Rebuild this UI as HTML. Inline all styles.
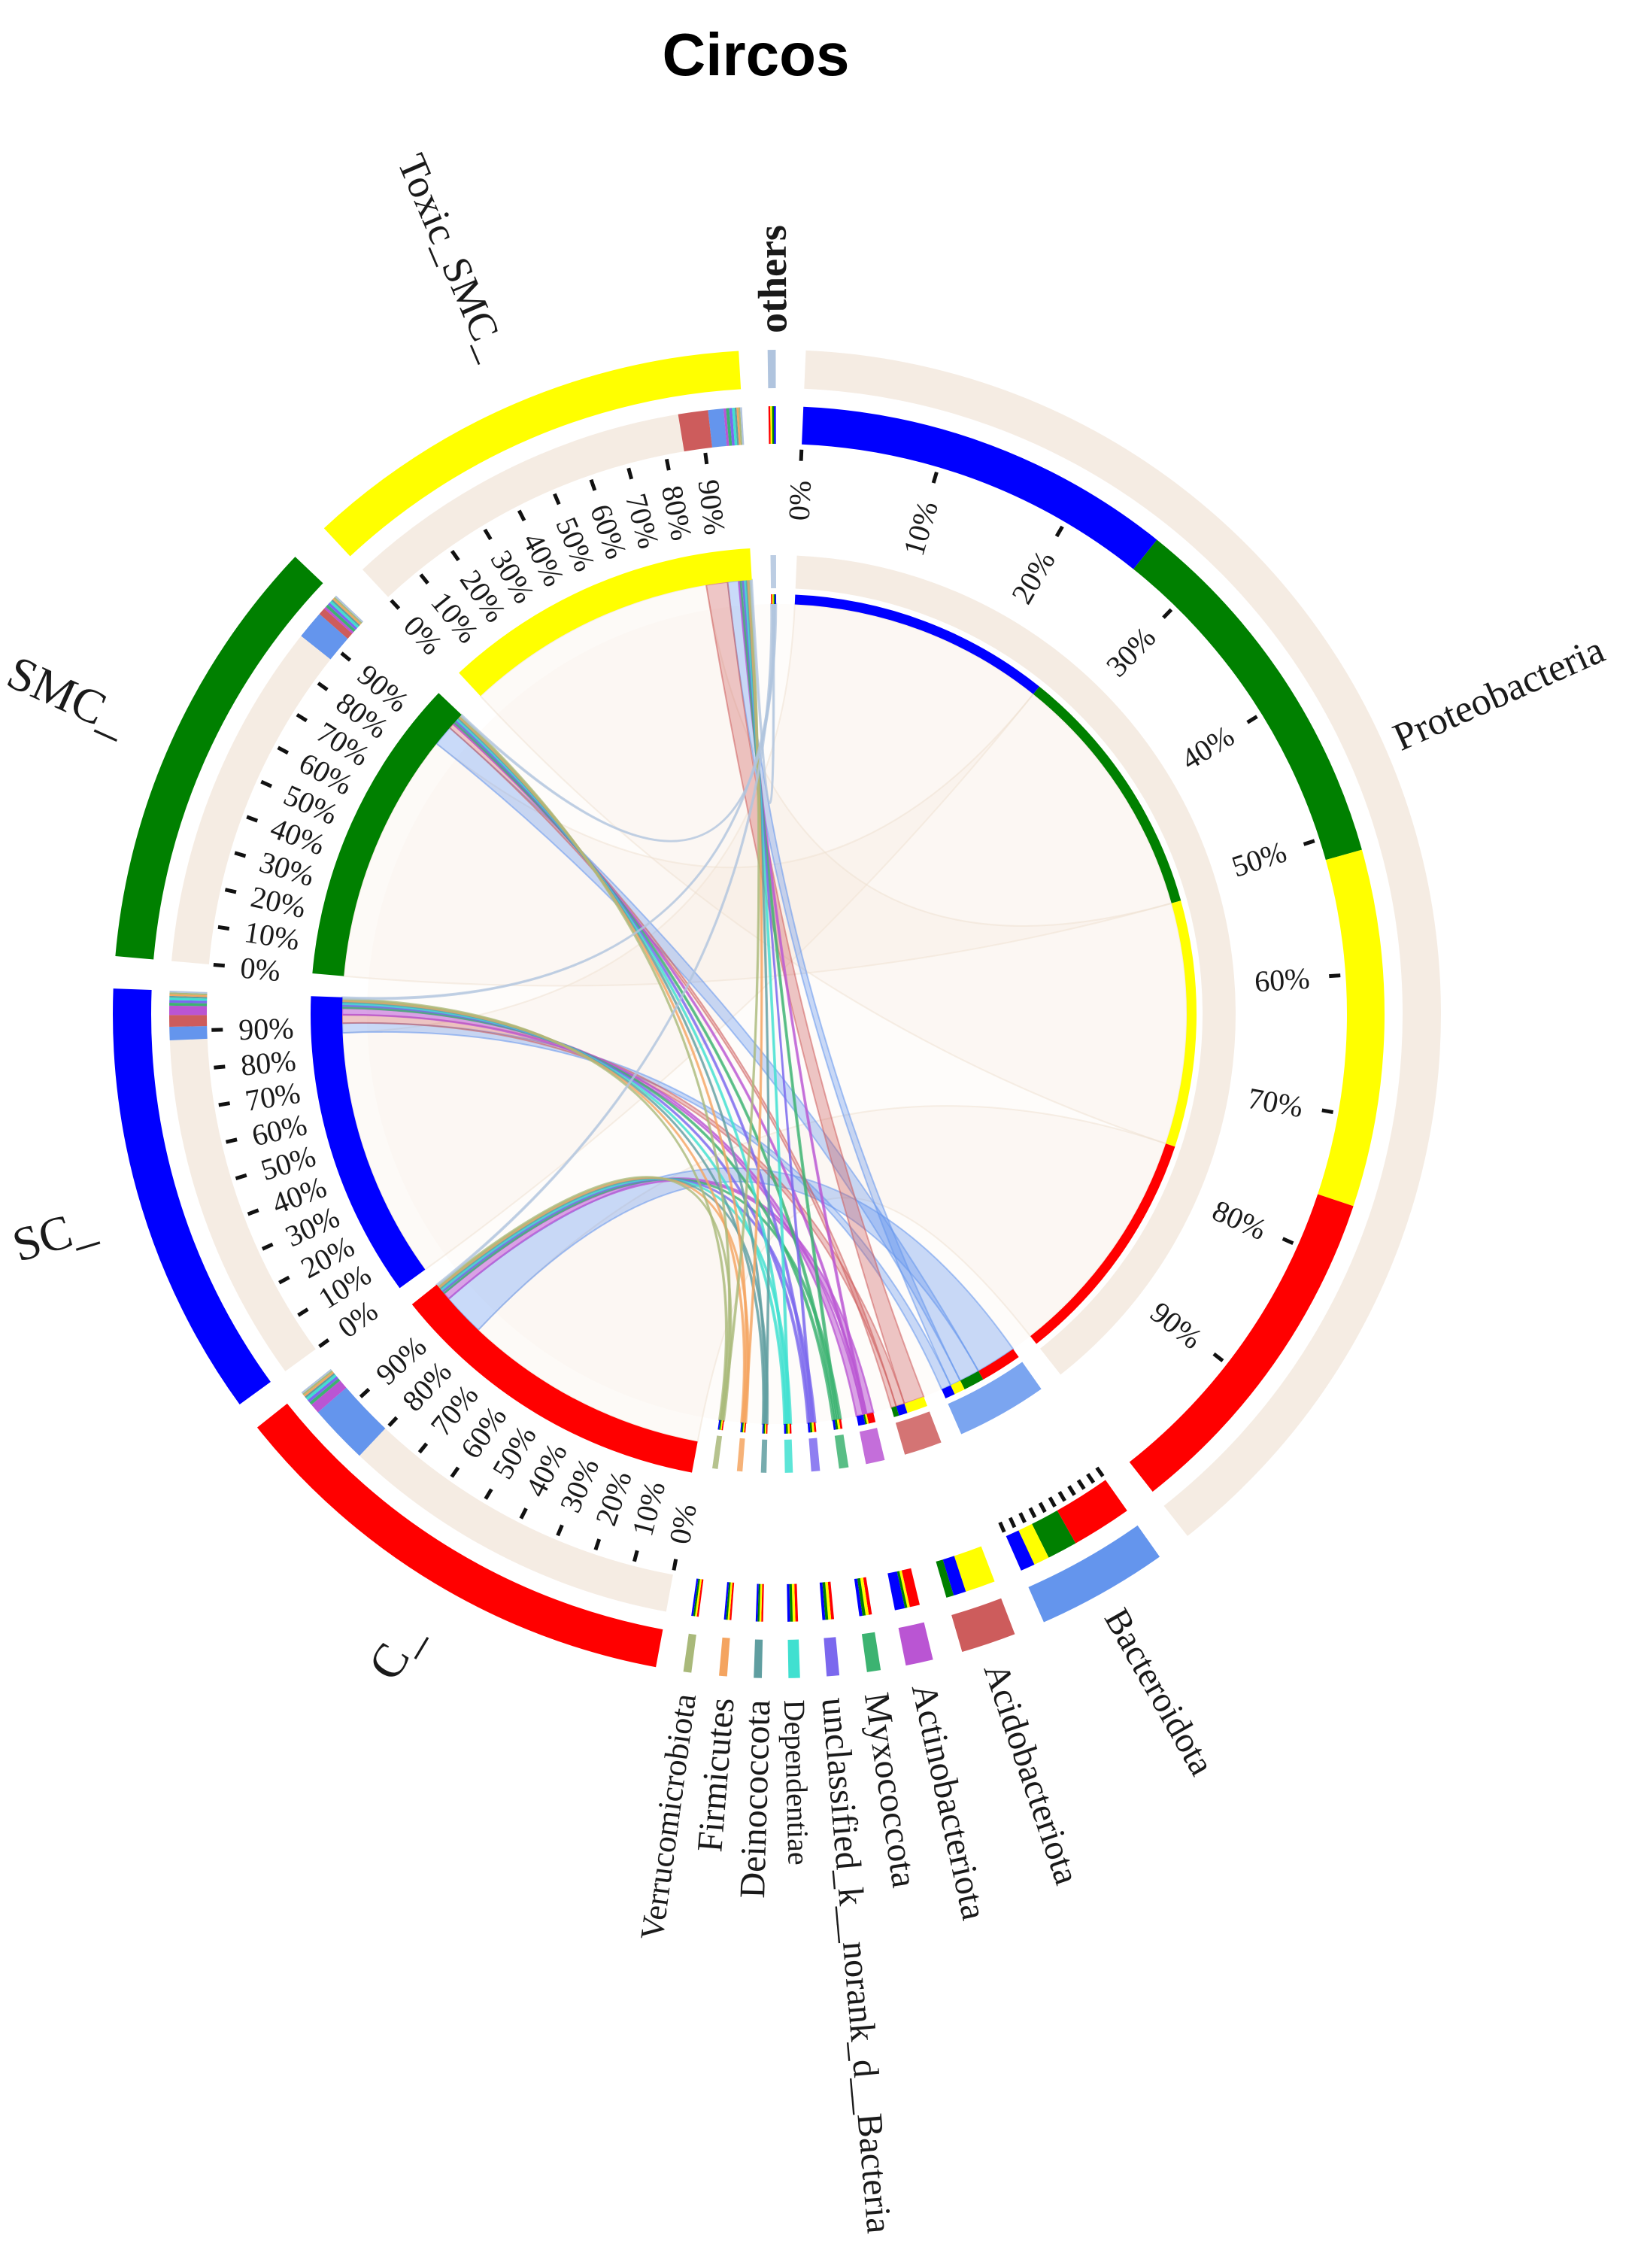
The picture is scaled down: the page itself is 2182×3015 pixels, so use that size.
<!DOCTYPE html>
<html><head><meta charset="utf-8"><style>
html,body{margin:0;padding:0;background:#fff;}
svg{display:block;}
text{font-family:"Liberation Serif","DejaVu Serif",serif;fill:#1a1a1a;}
.t{font-size:40px;}
.nm{font-size:64px;}
.ph{font-size:48px;}
</style></head><body>
<svg id="s" width="2182" height="3015" viewBox="0 0 2182 3015" xmlns="http://www.w3.org/2000/svg">
<rect width="2182" height="3015" fill="#fff"/>
<text x="1005" y="100" text-anchor="middle" style="font-family:'Liberation Sans',Arial,sans-serif;font-weight:bold;font-size:80px;fill:#000">Circos</text>
<g id="g" transform="translate(1033 1348)">
<g id="shapes"></g>
<g id="labels">
<text class="t" text-anchor="end" dy=".35em" transform="rotate(-87.5) translate(710 0)">0%</text>
<text class="t" text-anchor="end" dy=".35em" transform="rotate(-73.57) translate(710 0)">10%</text>
<text class="t" text-anchor="end" dy=".35em" transform="rotate(-59.64) translate(710 0)">20%</text>
<text class="t" text-anchor="end" dy=".35em" transform="rotate(-45.71) translate(710 0)">30%</text>
<text class="t" text-anchor="end" dy=".35em" transform="rotate(-31.78) translate(710 0)">40%</text>
<text class="t" text-anchor="end" dy=".35em" transform="rotate(-17.85) translate(710 0)">50%</text>
<text class="t" text-anchor="end" dy=".35em" transform="rotate(-3.92) translate(710 0)">60%</text>
<text class="t" text-anchor="end" dy=".35em" transform="rotate(10.01) translate(710 0)">70%</text>
<text class="t" text-anchor="end" dy=".35em" transform="rotate(23.94) translate(710 0)">80%</text>
<text class="t" text-anchor="end" dy=".35em" transform="rotate(37.87) translate(710 0)">90%</text>
<text class="t" dy=".35em" transform="rotate(280.5) translate(-716 0)">0%</text>
<text class="t" dy=".35em" transform="rotate(284.6) translate(-716 0)">10%</text>
<text class="t" dy=".35em" transform="rotate(288.7) translate(-716 0)">20%</text>
<text class="t" dy=".35em" transform="rotate(292.8) translate(-716 0)">30%</text>
<text class="t" dy=".35em" transform="rotate(296.9) translate(-716 0)">40%</text>
<text class="t" dy=".35em" transform="rotate(301) translate(-716 0)">50%</text>
<text class="t" dy=".35em" transform="rotate(305.1) translate(-716 0)">60%</text>
<text class="t" dy=".35em" transform="rotate(309.2) translate(-716 0)">70%</text>
<text class="t" dy=".35em" transform="rotate(313.3) translate(-716 0)">80%</text>
<text class="t" dy=".35em" transform="rotate(317.4) translate(-716 0)">90%</text>
<text class="t" dy=".35em" transform="rotate(324) translate(-716 0)">0%</text>
<text class="t" dy=".35em" transform="rotate(327.82) translate(-716 0)">10%</text>
<text class="t" dy=".35em" transform="rotate(331.64) translate(-716 0)">20%</text>
<text class="t" dy=".35em" transform="rotate(335.46) translate(-716 0)">30%</text>
<text class="t" dy=".35em" transform="rotate(339.28) translate(-716 0)">40%</text>
<text class="t" dy=".35em" transform="rotate(343.1) translate(-716 0)">50%</text>
<text class="t" dy=".35em" transform="rotate(346.92) translate(-716 0)">60%</text>
<text class="t" dy=".35em" transform="rotate(350.74) translate(-716 0)">70%</text>
<text class="t" dy=".35em" transform="rotate(354.56) translate(-716 0)">80%</text>
<text class="t" dy=".35em" transform="rotate(358.38) translate(-716 0)">90%</text>
<text class="t" dy=".35em" transform="rotate(5) translate(-716 0)">0%</text>
<text class="t" dy=".35em" transform="rotate(8.85) translate(-716 0)">10%</text>
<text class="t" dy=".35em" transform="rotate(12.7) translate(-716 0)">20%</text>
<text class="t" dy=".35em" transform="rotate(16.55) translate(-716 0)">30%</text>
<text class="t" dy=".35em" transform="rotate(20.4) translate(-716 0)">40%</text>
<text class="t" dy=".35em" transform="rotate(24.25) translate(-716 0)">50%</text>
<text class="t" dy=".35em" transform="rotate(28.1) translate(-716 0)">60%</text>
<text class="t" dy=".35em" transform="rotate(31.95) translate(-716 0)">70%</text>
<text class="t" dy=".35em" transform="rotate(35.8) translate(-716 0)">80%</text>
<text class="t" dy=".35em" transform="rotate(39.65) translate(-716 0)">90%</text>
<text class="t" dy=".35em" transform="rotate(47) translate(-716 0)">0%</text>
<text class="t" dy=".35em" transform="rotate(50.97) translate(-716 0)">10%</text>
<text class="t" dy=".35em" transform="rotate(54.94) translate(-716 0)">20%</text>
<text class="t" dy=".35em" transform="rotate(58.91) translate(-716 0)">30%</text>
<text class="t" dy=".35em" transform="rotate(62.88) translate(-716 0)">40%</text>
<text class="t" dy=".35em" transform="rotate(66.85) translate(-716 0)">50%</text>
<text class="t" dy=".35em" transform="rotate(70.82) translate(-716 0)">60%</text>
<text class="t" dy=".35em" transform="rotate(74.79) translate(-716 0)">70%</text>
<text class="t" dy=".35em" transform="rotate(78.76) translate(-716 0)">80%</text>
<text class="t" dy=".35em" transform="rotate(82.73) translate(-716 0)">90%</text>
<text class="nm" text-anchor="end" dy=".35em" transform="rotate(301) translate(-950 0)">C_</text>
<text class="nm" text-anchor="end" dy=".35em" transform="rotate(343.1) translate(-950 0)">SC_</text>
<text class="nm" text-anchor="end" dy=".35em" transform="rotate(24.25) translate(-950 0)">SMC_</text>
<text class="nm" style="font-size:54px" text-anchor="end" dy=".35em" transform="rotate(66.85) translate(-950 0)">Toxic_SMC_</text>
<text style="font-size:54px;font-weight:bold" dy=".35em" transform="rotate(-90.4) translate(905 0)">others</text>
<text class="ph" style="font-size:52px" dy=".35em" transform="rotate(-24) translate(900 0)">Proteobacteria</text>
<text class="ph" dy=".35em" transform="rotate(60.5) translate(912 0)">Bacteroidota</text>
<text class="ph" dy=".35em" transform="rotate(71.4) translate(912 0)">Acidobacteriota</text>
<text class="ph" dy=".35em" transform="rotate(77.6) translate(912 0)">Actinobacteriota</text>
<text class="ph" dy=".35em" transform="rotate(81.6) translate(912 0)">Myxococcota</text>
<text class="ph" dy=".35em" transform="rotate(85.15) translate(912 0)">unclassified_k__norank_d__Bacteria</text>
<text class="ph" style="font-size:40px" dy=".35em" transform="rotate(88.5) translate(912 0)">Dependentiae</text>
<text class="ph" text-anchor="end" dy=".35em" transform="rotate(271.65) translate(-912 0)">Deinococcota</text>
<text class="ph" text-anchor="end" dy=".35em" transform="rotate(274.65) translate(-912 0)">Firmicutes</text>
<text class="ph" style="font-size:44px" text-anchor="end" dy=".35em" transform="rotate(277.75) translate(-912 0)">Verrucomicrobiota</text>
</g>
</g>
</svg>
<script>
(function(){
var NS="http://www.w3.org/2000/svg";
var G=document.getElementById("shapes");
function pt(r,a){var t=a*Math.PI/180;return [r*Math.sin(t),-r*Math.cos(t)];}
function f(p){return p[0].toFixed(2)+" "+p[1].toFixed(2);}
function add(d,attrs){var e=document.createElementNS(NS,"path");e.setAttribute("d",d);for(var k in attrs)e.setAttribute(k,attrs[k]);G.appendChild(e);return e;}
function band(r0,r1,a0,a1,fill,extra){
 var la=(a1-a0)>180?1:0;
 var d="M"+f(pt(r1,a0))+" A"+r1+" "+r1+" 0 "+la+" 1 "+f(pt(r1,a1))+" L"+f(pt(r0,a1))+" A"+r0+" "+r0+" 0 "+la+" 0 "+f(pt(r0,a0))+"Z";
 var at={fill:fill};if(extra)for(var k in extra)at[k]=extra[k];
 return add(d,at);
}
function tick(r0,r1,a){add("M"+f(pt(r0,a))+" L"+f(pt(r1,a)),{stroke:"#111","stroke-width":5});}
var BEIGE="#F5ECE3";
var S=[{a:190.5,b:231.5,c:"#FF0000"},{a:234,b:272.2,c:"#0000FF"},{a:275,b:313.5,c:"#008000"},{a:317,b:356.7,c:"#FFFF00"}];
var Q=[[0,.25],[3,.25],[2,.25],[1,.25]];
var P=[
 {a:2.5,b:141.8,c:BEIGE,sp:[[1,.26],[2,.2556],[3,.2448],[0,.2396]],big:1},
 {a:144.8,b:156.3,c:"#6495ED",sp:[[0,.5],[2,.25],[3,.13],[1,.12]]},
 {a:159,b:163.8,c:"#CD5C5C",sp:[[3,.6],[1,.25],[2,.15]]},
 {a:166.4,b:168.8,c:"#BA55D3",sp:[[0,.4],[3,.1],[2,.1],[1,.4]]},
 {a:171,b:172.2,c:"#3CB371",sp:Q},
 {a:174.6,b:175.7,c:"#7B68EE",sp:Q},
 {a:178,b:179,c:"#40E0D0",sp:Q},
 {a:181.3,b:182,c:"#5F9EA0",sp:Q},
 {a:184.3,b:185,c:"#F4A460",sp:Q},
 {a:187.4,b:188.1,c:"#A9B97A",sp:Q},
 {a:359.2,b:359.9,c:"#B0C4DE",sp:Q}
];
var pieces=[];var bySample=[[],[],[],[]];
P.forEach(function(p,i){var cur=p.a,w=p.b-p.a;p.sp.forEach(function(s){var pc={p:i,s:s[0],pa:cur,pb:cur+w*s[1]};cur=pc.pb;pieces.push(pc);bySample[s[0]].push(pc);});});
bySample.forEach(function(list,si){
 list.sort(function(x,y){var ox=x.p,oy=y.p;if(si===3){if(ox===2)ox=0.5;if(oy===2)oy=0.5;}return ox-oy;});
 var tot=0;list.forEach(function(pc){tot+=pc.pb-pc.pa;});
 var sc=(S[si].b-S[si].a)/tot,cur=S[si].a;
 list.forEach(function(pc){pc.sa=cur;cur+=(pc.pb-pc.pa)*sc;pc.sb=cur;});
});
add("M0 -545 A545 545 0 1 1 0 545 A545 545 0 1 1 0 -545Z",{fill:"#FEFCFA"});
var RS=578,RP=545;
function chord(pc,attrs){
 var d="M"+f(pt(RS,pc.sa))+" A"+RS+" "+RS+" 0 0 1 "+f(pt(RS,pc.sb))+" Q0 0 "+f(pt(RP,pc.pa))+" A"+RP+" "+RP+" 0 0 1 "+f(pt(RP,pc.pb))+" Q0 0 "+f(pt(RS,pc.sa))+"Z";
 add(d,attrs);
}
pieces.forEach(function(pc){if(pc.p===0)chord(pc,{fill:"#F3E6D9","fill-opacity":.2,stroke:"#EEDFD0","stroke-opacity":.5,"stroke-width":2});});
pieces.forEach(function(pc){if(pc.p===0)return;var c=P[pc.p].c;
 if(pc.p<=2)chord(pc,{fill:c,"fill-opacity":.35,stroke:c,"stroke-opacity":.55,"stroke-width":2});
 else chord(pc,{fill:c,"fill-opacity":.55,stroke:c,"stroke-opacity":.75,"stroke-width":2.5});
});
S.forEach(function(s){band(832,883,s.a,s.b,s.c);});
P.forEach(function(p){band(832,883,p.a,p.b,p.c);});
S.forEach(function(s){band(758,808,s.a,s.b,BEIGE);});
pieces.forEach(function(pc){
 if(pc.p!==0)band(758,808,pc.sa,pc.sb,P[pc.p].c);
 band(758,808,pc.pa,pc.pb,S[pc.s].c);
});
S.forEach(function(s){band(578,620,s.a,s.b,s.c);});
P.forEach(function(p){band(566,610,p.a,p.b,p.c,p.big?{}:{"fill-opacity":.85});});
pieces.forEach(function(pc){band(545,558,pc.pa,pc.pb,S[pc.s].c);});
S.forEach(function(s){for(var k=0;k<10;k++)tick(737,752,s.a+(s.b-s.a)*k/10);});
var p0=P[0];for(var k=0;k<10;k++)tick(736,751,p0.a+(p0.b-p0.a)*k/10);
var p1=P[1];for(var k=0;k<=10;k++)tick(738,752,p1.a+(p1.b-p1.a)*k/10);
})();
</script>
</body></html>
